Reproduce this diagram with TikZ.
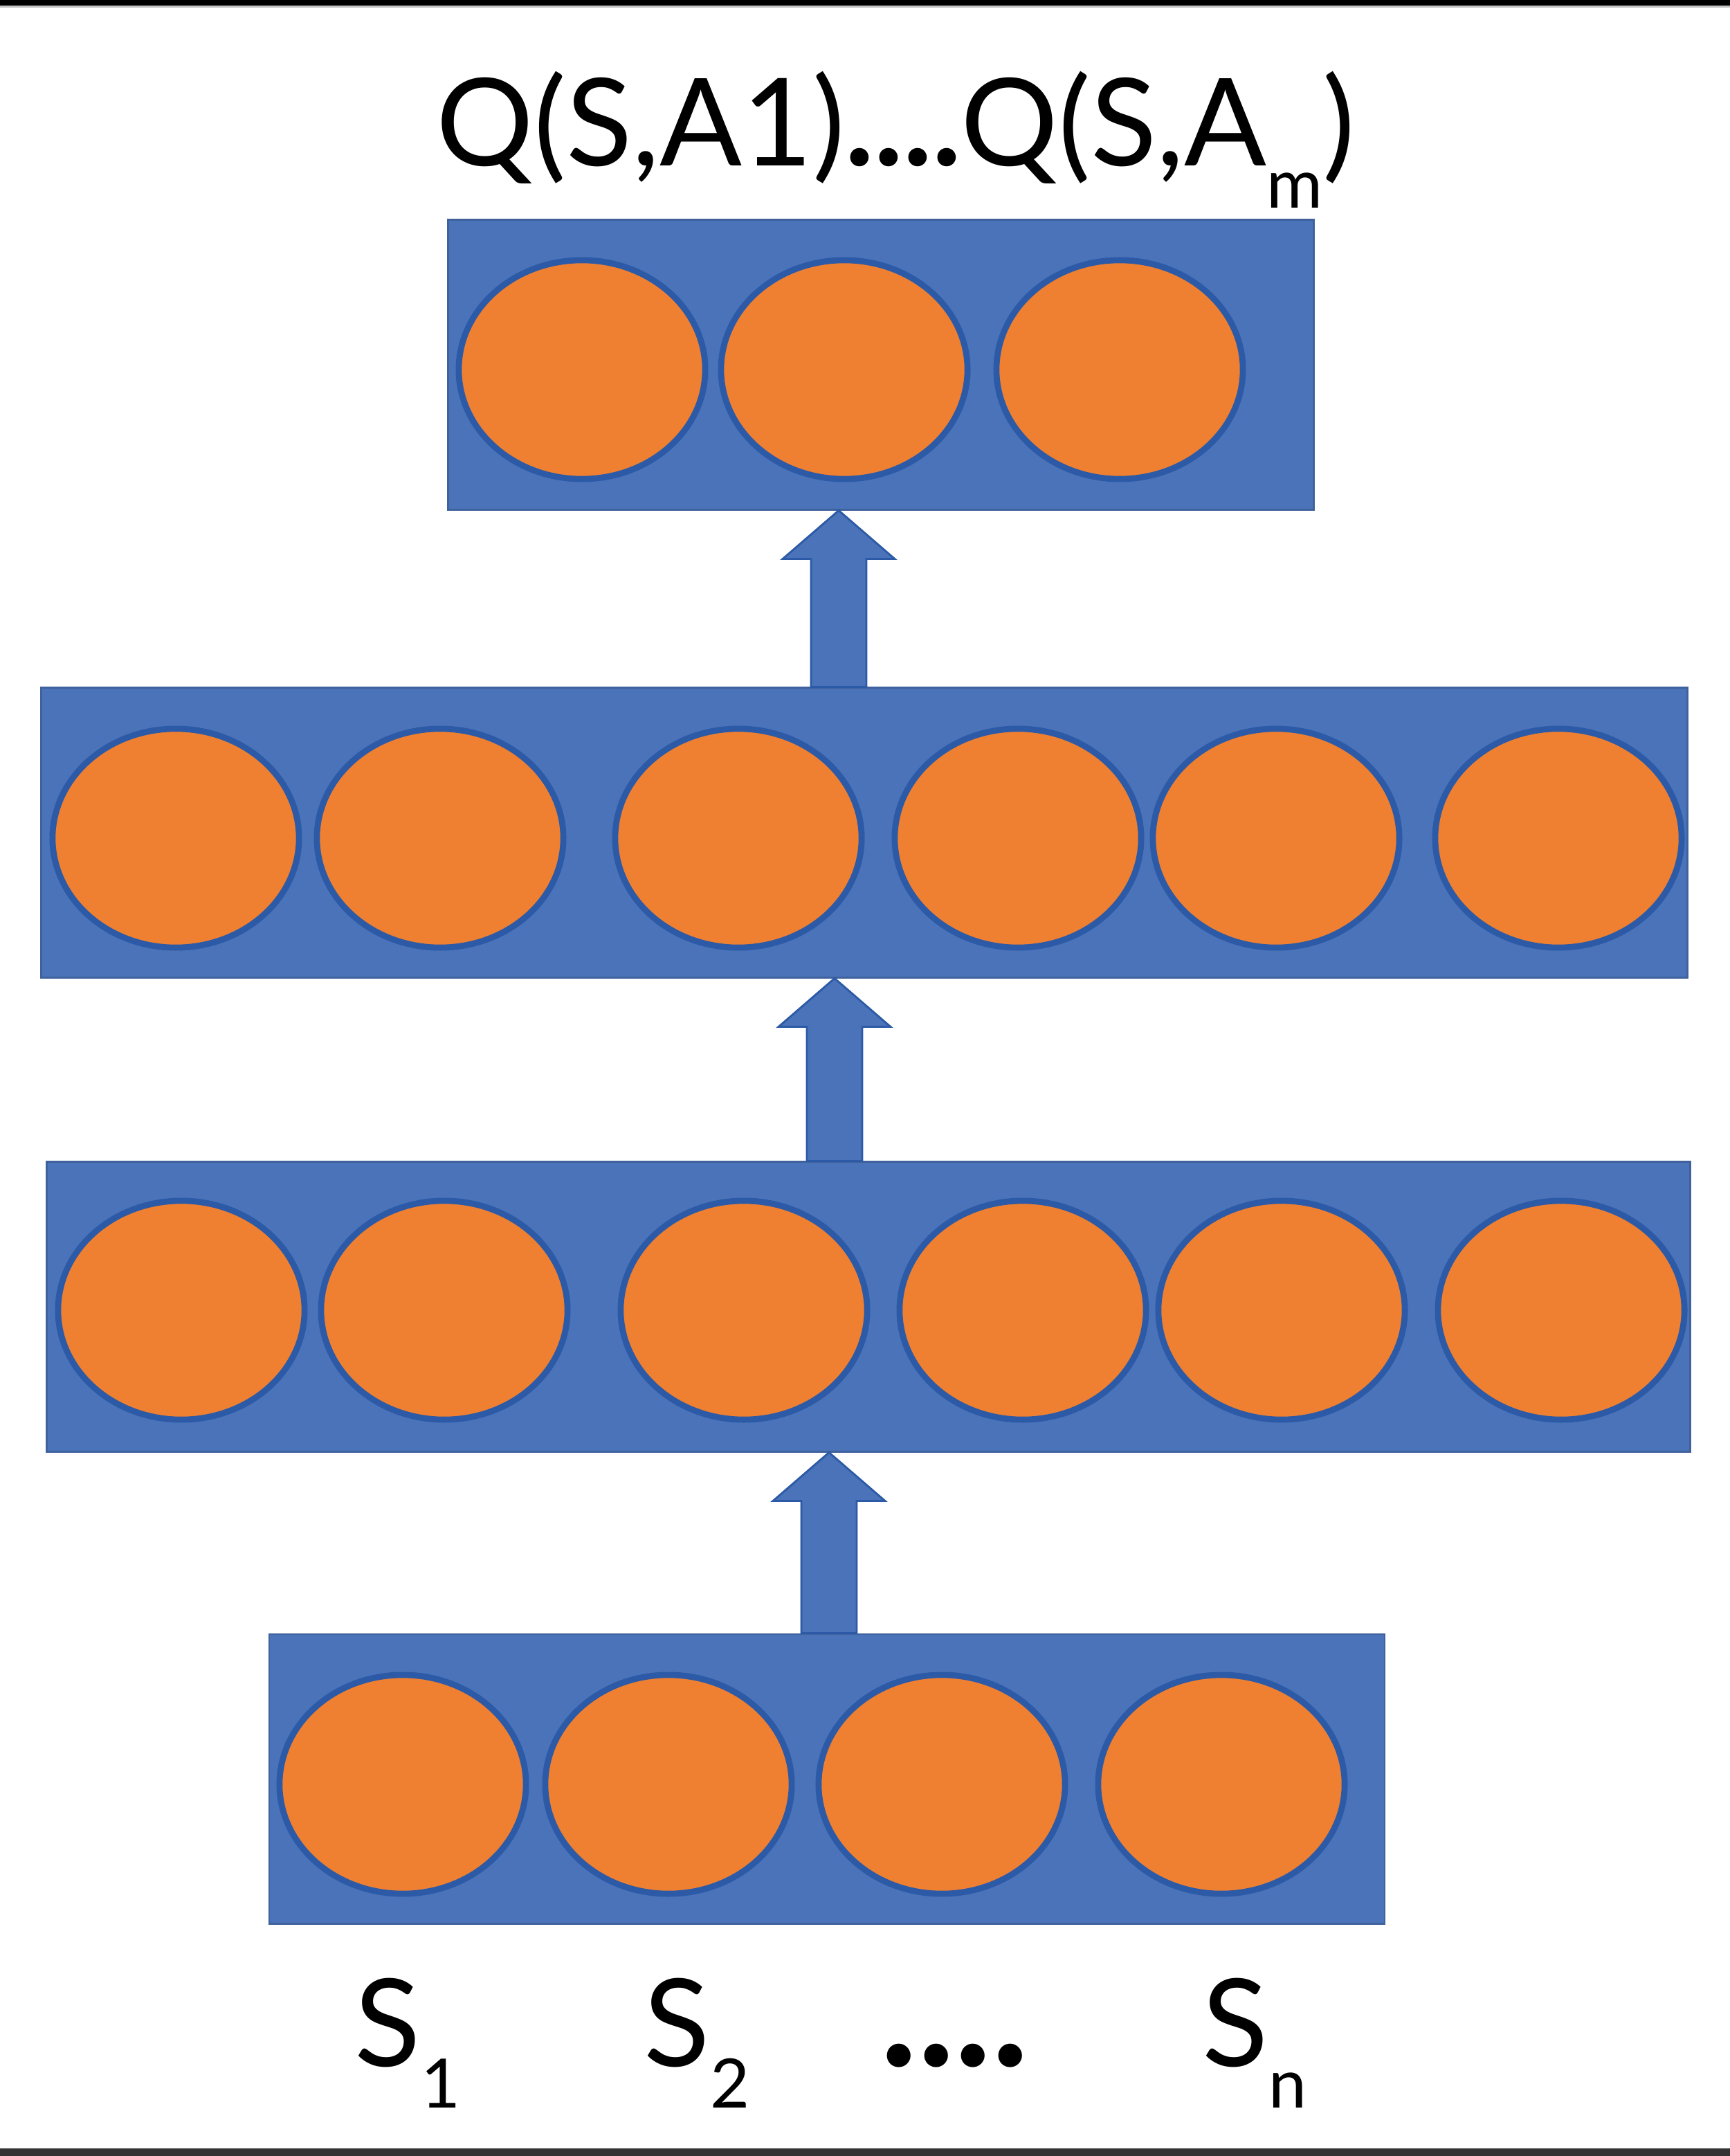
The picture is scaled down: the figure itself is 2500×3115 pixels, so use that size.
\documentclass[tikz,border=0pt]{standalone}
\usepackage{fontspec}
\setmainfont{Lato}
\usetikzlibrary{shapes.geometric, calc}
\definecolor{layerblue}{HTML}{4A73B9}
\definecolor{edgeblue}{HTML}{2C5AA6}
\definecolor{unitorange}{HTML}{EF8031}
\newcommand{\lowsub}[1]{\raisebox{-0.6cm}{\fontsize{28}{30}\selectfont #1}}

\begin{document}
\begin{tikzpicture}[x=0.01cm, y=-0.01cm,
    layer/.style={rectangle, fill=layerblue, draw=layerblue!85!black, line width=0.8pt,
      inner sep=0pt, minimum height=4.18cm},
    unit/.style={ellipse, fill=unitorange, draw=edgeblue, line width=2.5pt, inner sep=0pt,
      minimum width=3.56cm, minimum height=3.16cm},
    flow/.style={fill=layerblue, draw=edgeblue, line width=0.8pt},
    lbl/.style={inner sep=0pt, font=\fontsize{50}{60}\selectfont}]
\useasboundingbox (0,0) rectangle (2500,3115);
\fill [white] (0,0) rectangle (2500,3115);
\fill [black] (0,0) rectangle (2500,8);
\fill [black!25] (0,8) rectangle (2500,11);
\fill [black!80] (0,3104) rectangle (2500,3115);

% layers
\node [layer, minimum width=12.5cm] (out) at (1273,527) {};
\node [layer, minimum width=23.78cm] (hidB) at (1249,1203) {};
\node [layer, minimum width=23.74cm] (hidA) at (1255,1888) {};
\node [layer, minimum width=16.11cm] (inp) at (1195,2570) {};

% block arrows between layers
\foreach \lo/\hi/\x in {inp/hidA/1198, hidA/hidB/1206, hidB/out/1212} {
  \coordinate (b) at (\x,0 |- \lo.north);
  \coordinate (t) at (\x,0 |- \hi.south);
  \path [flow] ($(b)+(-40,0)$) -- ($(t)+(-40,70)$) -- ($(t)+(-81,70)$) -- (t)
    -- ($(t)+(81,70)$) -- ($(t)+(40,70)$) -- ($(b)+(40,0)$) -- cycle;
}

% units
\foreach \x [count=\i] in {841,1220,1618}
  \node [unit] (out-\i) at (\x,534) {};
\foreach \x [count=\i] in {254,636,1067,1471,1844,2252}
  \node [unit] (hidB-\i) at (\x,1211) {};
\foreach \x [count=\i] in {262,642,1075,1478,1852,2256}
  \node [unit] (hidA-\i) at (\x,1893) {};
\foreach \x [count=\i] in {582,966,1361,1765}
  \node [unit] (inp-\i) at (\x,2578) {};

% labels
\node [lbl, anchor=base west] (qvals) at (630,240) {Q(S,A1){\bfseries ....}Q(S,A\lowsub{m})};
\node [lbl, anchor=base west] (s1) at (512,2985) {S\lowsub{1}};
\node [lbl, anchor=base west] (s2) at (930,2985) {S\lowsub{2}};
\node [lbl, anchor=base west, font=\fontsize{64}{70}\selectfont\bfseries] (sdots) at (1272,2985) {....};
\node [lbl, anchor=base west] (sn) at (1737,2985) {S\lowsub{n}};
\end{tikzpicture}
\end{document}
